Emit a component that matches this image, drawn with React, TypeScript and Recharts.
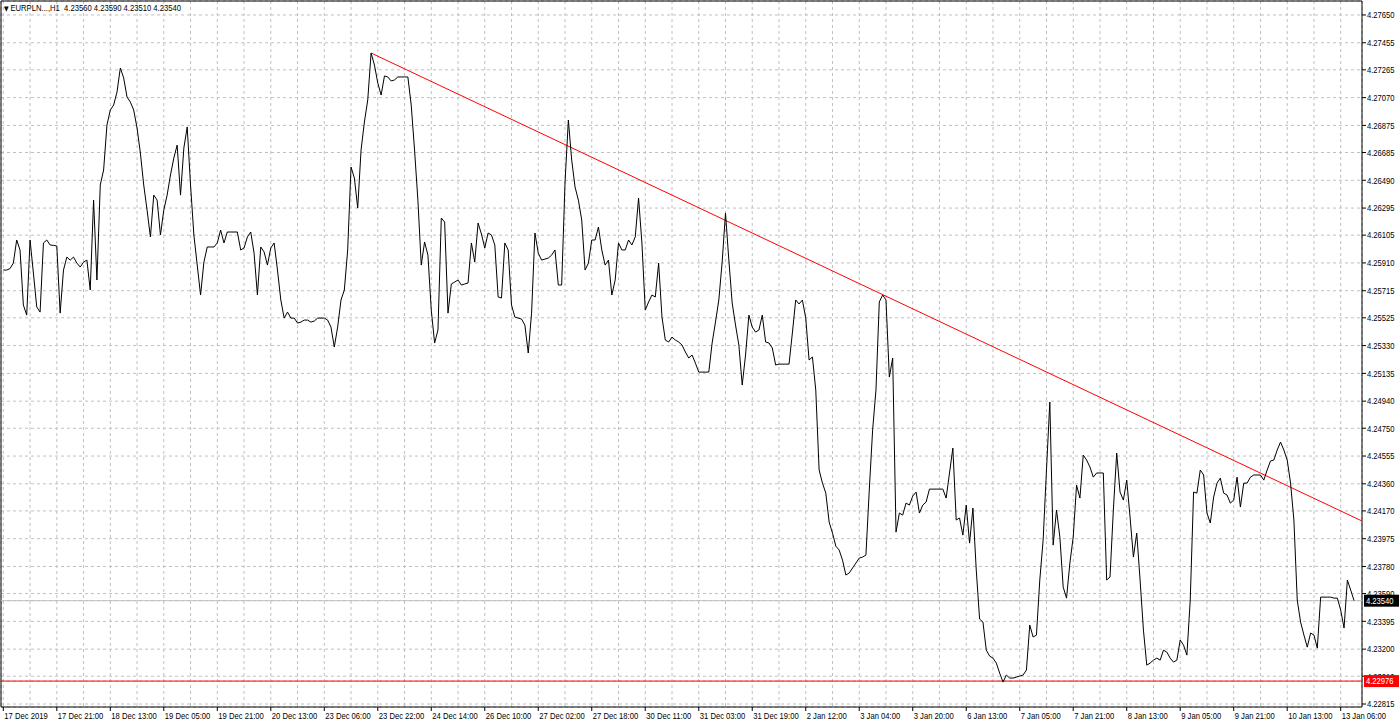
import React from 'react';
import { LineChart, Line, XAxis, YAxis, CartesianGrid, ReferenceLine, ReferenceArea } from 'recharts';

// Hourly close prices, bar 0 = first visible bar (17 Dec 2019)
const closePrice = [
  4.25860, 4.25860, 4.25870, 4.25909, 4.26071, 4.26001, 4.25615, 4.25544, 4.26071, 4.25839,
  4.25601, 4.25565, 4.26050, 4.26071, 4.26036, 4.26033, 4.26029, 4.25558, 4.25860, 4.25951,
  4.25930, 4.25951, 4.25909, 4.25881, 4.25916, 4.25930, 4.25720, 4.26351, 4.25790, 4.26457,
  4.26562, 4.26878, 4.26983, 4.27018, 4.27109, 4.27278, 4.27208, 4.27074, 4.27039, 4.26983,
  4.26857, 4.26681, 4.26457, 4.26281, 4.26092, 4.26386, 4.26351, 4.26106, 4.26281, 4.26386,
  4.26527, 4.26646, 4.26737, 4.26386, 4.26716, 4.26864, 4.26457, 4.26106, 4.25895, 4.25685,
  4.25916, 4.26022, 4.26022, 4.26022, 4.26050, 4.26141, 4.26050, 4.26127, 4.26127, 4.26127,
  4.26127, 4.26001, 4.26015, 4.26092, 4.26127, 4.25979, 4.25685, 4.26022, 4.25987, 4.25895,
  4.26015, 4.26050, 4.25860, 4.25650, 4.25523, 4.25565, 4.25523, 4.25523, 4.25488, 4.25495,
  4.25509, 4.25509, 4.25495, 4.25502, 4.25523, 4.25523, 4.25523, 4.25509, 4.25460, 4.25320,
  4.25460, 4.25650, 4.25720, 4.26001, 4.26583, 4.26506, 4.26295, 4.26702, 4.26899, 4.27053,
  4.27383, 4.27299, 4.27173, 4.27088, 4.27222, 4.27215, 4.27187, 4.27194, 4.27215, 4.27215,
  4.27215, 4.27215, 4.27018, 4.26702, 4.26351, 4.25895, 4.26057, 4.25965, 4.25579, 4.25348,
  4.25439, 4.26225, 4.26197, 4.25558, 4.25762, 4.25776, 4.25790, 4.25755, 4.25762, 4.25769,
  4.26050, 4.25916, 4.26190, 4.26113, 4.26015, 4.26120, 4.26106, 4.26036, 4.25671, 4.25664,
  4.26050, 4.26001, 4.25615, 4.25530, 4.25523, 4.25516, 4.25474, 4.25278, 4.25558, 4.26120,
  4.25979, 4.25930, 4.25937, 4.25944, 4.25965, 4.26001, 4.25755, 4.25755, 4.26471, 4.26913,
  4.26632, 4.26443, 4.26351, 4.26211, 4.25860, 4.25909, 4.26071, 4.26071, 4.26162, 4.26001,
  4.25895, 4.25930, 4.25685, 4.25790, 4.26050, 4.26001, 4.26001, 4.26071, 4.26036, 4.26092,
  4.26365, 4.26050, 4.25579, 4.25636, 4.25685, 4.25671, 4.25909, 4.25530, 4.25369, 4.25355,
  4.25390, 4.25369, 4.25355, 4.25334, 4.25285, 4.25243, 4.25264, 4.25207, 4.25144, 4.25144,
  4.25144, 4.25144, 4.25348, 4.25495, 4.25650, 4.25916, 4.26260, 4.25930, 4.25629, 4.25474,
  4.25334, 4.25053, 4.25264, 4.25544, 4.25460, 4.25425, 4.25439, 4.25544, 4.25355, 4.25348,
  4.25313, 4.25194, 4.25200, 4.25200, 4.25200, 4.25200, 4.25418, 4.25650, 4.25622, 4.25650,
  4.25523, 4.25229, 4.25250, 4.25018, 4.24457, 4.24365, 4.24295, 4.24092, 4.24014, 4.23923,
  4.23895, 4.23825, 4.23720, 4.23734, 4.23769, 4.23804, 4.23839, 4.23846, 4.23860, 4.24316,
  4.24737, 4.25018, 4.25636, 4.25685, 4.25650, 4.25109, 4.25243, 4.24021, 4.24155, 4.24141,
  4.24225, 4.24211, 4.24274, 4.24302, 4.24155, 4.24211, 4.24232, 4.24323, 4.24323, 4.24323,
  4.24323, 4.24323, 4.24260, 4.24436, 4.24611, 4.24106, 4.24120, 4.24000, 4.24211, 4.23944,
  4.24190, 4.23755, 4.23411, 4.23390, 4.23193, 4.23151, 4.23137, 4.23102, 4.23032, 4.22969,
  4.23018, 4.22997, 4.22997, 4.23004, 4.23011, 4.23018, 4.23053, 4.23369, 4.23285, 4.23299,
  4.23685, 4.23965, 4.24457, 4.24934, 4.23930, 4.24176, 4.23987, 4.23635, 4.23558, 4.23804,
  4.23987, 4.24351, 4.24260, 4.24562, 4.24527, 4.24478, 4.24407, 4.24436, 4.24436, 4.24436,
  4.23685, 4.23706, 4.24176, 4.24576, 4.24302, 4.24246, 4.24386, 4.24127, 4.23846, 4.24014,
  4.23685, 4.23334, 4.23088, 4.23102, 4.23123, 4.23137, 4.23123, 4.23193, 4.23179, 4.23137,
  4.23109, 4.23123, 4.23264, 4.23228, 4.23158, 4.23544, 4.24302, 4.24295, 4.24457, 4.24422,
  4.24155, 4.24085, 4.24267, 4.24365, 4.24400, 4.24295, 4.24281, 4.24225, 4.24246, 4.24407,
  4.24197, 4.24365, 4.24365, 4.24407, 4.24422, 4.24422, 4.24422, 4.24386, 4.24457, 4.24520,
  4.24527, 4.24597, 4.24653, 4.24597, 4.24527, 4.24365, 4.24106, 4.23544, 4.23390, 4.23299,
  4.23214, 4.23313, 4.23299, 4.23207, 4.23565, 4.23565, 4.23565, 4.23565, 4.23558, 4.23558,
  4.23474, 4.23348, 4.23685, 4.23614, 4.23540,
];

const xTickLabels = [
  '17 Dec 2019', '17 Dec 21:00', '18 Dec 13:00', '19 Dec 05:00', '19 Dec 21:00', '20 Dec 13:00',
  '23 Dec 06:00', '23 Dec 22:00', '24 Dec 14:00', '26 Dec 10:00', '27 Dec 02:00', '27 Dec 18:00',
  '30 Dec 11:00', '31 Dec 03:00', '31 Dec 19:00', '2 Jan 12:00', '3 Jan 04:00', '3 Jan 20:00',
  '6 Jan 13:00', '7 Jan 05:00', '7 Jan 21:00', '8 Jan 13:00', '9 Jan 05:00', '9 Jan 21:00',
  '10 Jan 13:00', '13 Jan 06:00',
];
const labelStep = 16; // bars between time labels
const gridStep = 8;   // bars between vertical grid lines

const yTickValues = [
  4.27650, 4.27455, 4.27265, 4.27070, 4.26875, 4.26685, 4.26490, 4.26295, 4.26105, 4.25910,
  4.25715, 4.25525, 4.25330, 4.25135, 4.24940, 4.24750, 4.24555, 4.24360, 4.24170, 4.23975,
  4.23780, 4.23590, 4.23395, 4.23200, 4.23010, 4.22815,
];

const currentPrice = 4.23540;
const supportLevel = 4.22976;
const trendStart = { bar: 110, price: 4.27383 };
const trendEnd = { bar: 406.37, price: 4.24099 };
const xDomain: [number, number] = [-0.69, 406.37];
const yDomain: [number, number] = [4.22794, 4.27748];
const titleText = 'EURPLN...,H1  4.23560 4.23590 4.23510 4.23540';

const FONT = '"Liberation Sans", Arial, sans-serif';
const FS = 9;
const SX = 0.85; // horizontal condensing to mimic the terminal's narrow font

const data = closePrice.map((c, i) => ({ bar: i, close: c }));
const lastLabelBar = (xTickLabels.length - 1) * labelStep;
const xTicks: number[] = [];
for (let b = 0; b <= lastLabelBar; b += gridStep) xTicks.push(b);

// price boxes are drawn last so they sit on top of the regular labels
const priceBoxes: Record<string, string> = {
  [currentPrice.toFixed(5)]: '#000000',
  [supportLevel.toFixed(5)]: '#ff0000',
};
const yTicksAll = [...yTickValues, currentPrice, supportLevel];

const XTick = (props: any) => {
  const { x, y, payload } = props;
  const v = payload.value;
  if (v % labelStep !== 0) return <g />;
  const label = xTickLabels[v / labelStep];
  return (
    <g>
      <line x1={x} x2={x} y1={y} y2={y + 4} stroke="#000" strokeWidth={1} />
      <text
        transform={`translate(${x + 1},${y + 11.5}) scale(${SX},1)`}
        fontFamily={FONT}
        fontSize={FS}
        fill="#000"
        textAnchor="start"
      >
        {label}
      </text>
    </g>
  );
};

const YTick = (props: any) => {
  const { x, y, payload, index } = props;
  const txt = Number(payload.value).toFixed(5);
  const isBox = index >= yTickValues.length;
  if (isBox) {
    return (
      <g>
        <rect x={x + 2} y={y - 6} width={35} height={12} fill={priceBoxes[txt]} />
        <text
          transform={`translate(${x + 4},${y + 3.3}) scale(${SX},1)`}
          fontFamily={FONT}
          fontSize={FS}
          fill="#fff"
          textAnchor="start"
        >
          {txt}
        </text>
      </g>
    );
  }
  return (
    <g>
      <line x1={x} x2={x + 4} y1={y} y2={y} stroke="#000" strokeWidth={1} />
      <text
        transform={`translate(${x + 5},${y + 3.3}) scale(${SX},1)`}
        fontFamily={FONT}
        fontSize={FS}
        fill="#000"
        textAnchor="start"
      >
        {txt}
      </text>
    </g>
  );
};

export default function App() {
  return (
    <div style={{ position: 'absolute', left: 0, top: 0, width: 1400, height: 725, background: '#fff' }}>
      <LineChart width={1400} height={725} data={data} margin={{ top: 1, right: 0, bottom: 0, left: 1 }}>
        <CartesianGrid stroke="#c0c0c0" strokeDasharray="3 3" />
        <XAxis
          dataKey="bar"
          type="number"
          domain={xDomain}
          allowDataOverflow
          ticks={xTicks}
          interval={0}
          height={18}
          axisLine={false}
          tickLine={false}
          tickSize={0}
          tickMargin={0}
          tick={<XTick />}
        />
        <YAxis
          orientation="right"
          type="number"
          domain={yDomain}
          allowDataOverflow
          ticks={yTicksAll}
          interval={0}
          width={38}
          axisLine={false}
          tickLine={false}
          tickSize={0}
          tickMargin={0}
          tick={<YTick />}
        />
        <ReferenceArea
          x1={xDomain[0]}
          x2={xDomain[1]}
          y1={yDomain[0]}
          y2={yDomain[1]}
          fill="none"
          fillOpacity={0}
          stroke="#000"
          strokeWidth={1}
          ifOverflow="visible"
        />
        <ReferenceLine y={currentPrice} stroke="#c0c0c0" strokeWidth={1} />
        <ReferenceLine y={supportLevel} stroke="#ff0000" strokeWidth={1} />
        <ReferenceLine
          segment={[
            { x: trendStart.bar, y: trendStart.price },
            { x: trendEnd.bar, y: trendEnd.price },
          ]}
          stroke="#ff0000"
          strokeWidth={1}
          ifOverflow="visible"
        />
        <Line
          type="linear"
          dataKey="close"
          stroke="#000"
          strokeWidth={1}
          dot={false}
          activeDot={false}
          isAnimationActive={false}
        />
      </LineChart>
      <div
        style={{
          position: 'absolute',
          left: 4,
          top: 3,
          fontFamily: FONT,
          fontSize: FS,
          color: '#000',
          whiteSpace: 'pre',
          lineHeight: '10px',
          transform: `scaleX(${SX})`,
          transformOrigin: 'left top',
        }}
      >
        <span style={{ fontFamily: '"DejaVu Sans", sans-serif', fontSize: 7 }}>▼ </span>
        {titleText}
      </div>
    </div>
  );
}
